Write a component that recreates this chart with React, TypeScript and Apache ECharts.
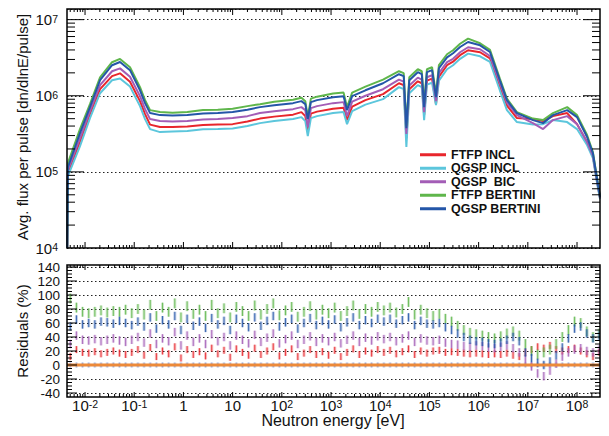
import React, { useEffect, useRef } from "react";
import * as echarts from "echarts";

const FONT = '"Liberation Sans", Arial, Helvetica, sans-serif';

// Neutron energy (eV) of the flux points
const energy = [
  4.35e-3, 4.5e-3, 7.9e-3, 0.0126, 0.0202, 0.0354, 0.0514, 0.082, 0.131, 0.166,
  0.21, 0.334, 0.6, 1.2, 2.5, 5, 10, 20, 36, 70,
  169, 250, 300, 337, 390, 519, 1100, 1800, 2115, 2690,
  5000, 1.14e4, 2.4e4, 3.0e4, 3.4e4, 3.9e4, 5.8e4, 7.0e4, 7.8e4, 8.9e4,
  1.13e5, 1.36e5, 1.56e5, 2.28e5, 3.02e5, 4.2e5, 6.1e5, 1.07e6, 1.7e6, 2.7e6,
  3.76e6, 6.0e6, 1.27e7, 2.04e7, 3.24e7, 6.3e7, 1.0e8, 1.6e8, 2.1e8, 2.57e8,
  2.93e8,
];

// Avg. flux per pulse [dn/dlnE/pulse]
const fluxFtfpIncl = [
  1e4, 9.67e4, 2.47e5, 5.74e5, 1.22e6, 1.81e6, 1.97e6, 1.53e6, 8.5e5, 5.74e5,
  4.18e5, 3.88e5, 3.88e5, 3.94e5, 4.12e5, 4.18e5, 4.24e5, 4.58e5, 5.01e5, 5.32e5,
  5.65e5, 6.1e5, 5.4e5, 3.44e5, 5.83e5, 6.19e5, 6.77e5, 6.98e5, 4.79e5, 7.2e5,
  8.76e5, 1.05e6, 1.46e6, 1.38e6, 2.78e5, 1.22e6, 1.55e6, 1.46e6, 5.57e5, 1.58e6,
  1.68e6, 7.76e5, 1.78e6, 2.52e6, 2.8e6, 3.41e6, 3.96e6, 3.73e6, 3.09e6, 1.34e6,
  7.42e5, 5.09e5, 4.94e5, 4.65e5, 5.4e5, 5.92e5, 4.24e5, 2.47e5, 1.62e5, 7.37e4,
  4.55e4,
];
const fluxQgspIncl = [
  1e4, 8.84e4, 2.18e5, 5.09e5, 1.08e6, 1.6e6, 1.69e6, 1.32e6, 7.31e5, 4.94e5,
  3.65e5, 3.33e5, 3.38e5, 3.44e5, 3.62e5, 3.65e5, 3.71e5, 4.0e5, 4.37e5, 4.65e5,
  4.94e5, 5.24e5, 4.65e5, 2.95e5, 5.09e5, 5.4e5, 5.92e5, 6.1e5, 4.24e5, 6.28e5,
  7.64e5, 9.03e5, 1.3e6, 1.22e6, 2.12e5, 1.08e6, 1.38e6, 1.3e6, 4.79e5, 1.4e6,
  1.48e6, 7.53e5, 1.58e6, 2.23e6, 2.52e6, 3.06e6, 3.58e6, 3.3e6, 2.78e6, 1.18e6,
  6.48e5, 4.51e5, 4.18e5, 4.24e5, 4.79e5, 4.51e5, 3.65e5, 2.25e5, 1.52e5, 6.94e4,
  4.41e4,
];
const fluxQgspBic = [
  1e4, 1.06e5, 2.78e5, 6.28e5, 1.38e6, 2.1e6, 2.29e6, 1.78e6, 9.88e5, 6.67e5,
  4.94e5, 4.65e5, 4.58e5, 4.65e5, 4.89e5, 4.94e5, 5.09e5, 5.4e5, 5.92e5, 6.28e5,
  6.67e5, 7.09e5, 6.48e5, 3.88e5, 6.88e5, 7.31e5, 8.0e5, 8.25e5, 5.4e5, 8.37e5,
  1.0e6, 1.22e6, 1.63e6, 1.53e6, 3.14e5, 1.36e6, 1.73e6, 1.63e6, 6.1e5, 1.75e6,
  1.86e6, 8.5e5, 1.98e6, 2.76e6, 3.06e6, 3.73e6, 4.34e6, 4.08e6, 3.33e6, 1.46e6,
  8.12e5, 5.57e5, 4.37e5, 3.65e5, 4.79e5, 5.4e5, 4.24e5, 2.47e5, 1.62e5, 7.37e4,
  4.55e4,
];
const fluxFtfpBertini = [
  1e4, 1.31e5, 3.65e5, 7.76e5, 1.75e6, 2.76e6, 3.05e6, 2.37e6, 1.3e6, 8.76e5,
  6.48e5, 6.1e5, 6.0e5, 6.1e5, 6.48e5, 6.57e5, 6.77e5, 7.31e5, 7.76e5, 8.37e5,
  8.89e5, 9.44e5, 8.5e5, 5.24e5, 9.16e5, 9.73e5, 1.07e6, 1.1e6, 7.09e5, 1.1e6,
  1.32e6, 1.63e6, 2.1e6, 1.98e6, 4.0e5, 1.75e6, 2.23e6, 2.1e6, 7.76e5, 2.23e6,
  2.37e6, 1.05e6, 2.52e6, 3.51e6, 3.96e6, 4.82e6, 5.64e6, 4.89e6, 4.0e6, 1.68e6,
  9.16e5, 6.1e5, 5.01e5, 4.79e5, 5.92e5, 7.09e5, 5.57e5, 3.05e5, 1.82e5, 8.07e4,
  4.69e4,
];
const fluxQgspBertini = [
  1e4, 1.16e5, 3.23e5, 7.09e5, 1.6e6, 2.52e6, 2.78e6, 2.17e6, 1.18e6, 8.0e5,
  5.92e5, 5.57e5, 5.49e5, 5.57e5, 5.86e5, 5.92e5, 6.1e5, 6.57e5, 7.09e5, 7.53e5,
  8.0e5, 8.5e5, 7.76e5, 4.94e5, 8.25e5, 8.76e5, 9.59e5, 9.88e5, 6.48e5, 9.88e5,
  1.18e6, 1.46e6, 1.92e6, 1.81e6, 3.76e5, 1.6e6, 2.04e6, 1.92e6, 7.09e5, 2.04e6,
  2.17e6, 9.59e5, 2.3e6, 3.2e6, 3.62e6, 4.37e6, 5.09e6, 4.6e6, 3.76e6, 1.6e6,
  8.76e5, 5.92e5, 4.79e5, 4.37e5, 5.57e5, 6.48e5, 5.24e5, 2.87e5, 1.77e5, 7.83e4,
  4.69e4,
];

const seriesNames = ["FTFP INCL", "QGSP INCL", "QGSP  BIC", "FTFP BERTINI", "QGSP BERTINI"];
const seriesColors = ["#e8262c", "#5cc6dc", "#a35db6", "#5fb64b", "#2456a8"];
const fluxSeries = [fluxFtfpIncl, fluxQgspIncl, fluxQgspBic, fluxFtfpBertini, fluxQgspBertini];

// Residuals (%) relative to QGSP INCL, histogram bins of 1/8 decade from 10^-2.3 eV
const resLogStart = -2.3;
const resLogStep = 0.125;
const resFtfpIncl = [
  12, 22, 18,
  17, 19, 16, 18, 20, 17, 15, 18,
  22, 14, 25, 12, 20, 16, 26, 10, 22, 15,
  19, 13, 24, 16, 21, 11, 23, 18, 14, 24,
  15, 20, 26, 13, 18, 23, 12, 17, 22, 15,
  19, 14, 21, 12, 18, 23, 15, 20, 17, 22,
  18, 21, 16, 19, 23, 15, 20, 17,
  20, 21, 18, 19,
  18, 17, 16, 17,
  16, 15, 16, 15,
  17, 14, 12,
  18, 22, 26,
  24, 28, 22,
  20, 22, 24,
  20, 16, 12, 18,
];
const resQgspBic = [
  30, 42, 36,
  35, 37, 34, 36, 38, 35, 33, 36,
  40, 32, 45, 30, 38, 34, 47, 28, 42, 33,
  38, 30, 44, 34, 40, 28, 42, 36, 31, 43,
  33, 39, 45, 31, 37, 42, 30, 36, 41, 33,
  38, 34, 40, 31, 36, 42, 33, 39, 35, 41,
  37, 40, 34, 38, 42, 33, 38, 35,
  34, 36, 32, 30,
  29, 27, 26, 28,
  27, 25, 24, 26,
  28, 24, 18,
  8, -2, -12,
  -16, -8, 2,
  12, 18, 22,
  24, 20, 18, 22,
];
const resFtfpBertini = [
  95, 82, 76,
  74, 76, 78, 75, 77, 76, 79, 74,
  80, 72, 86, 70, 82, 76, 88, 68, 84, 73,
  79, 70, 86, 74, 81, 68, 83, 77, 70, 85,
  72, 80, 88, 71, 78, 83, 69, 76, 84, 72,
  79, 74, 82, 70, 77, 85, 73, 80, 76, 83,
  78, 82, 75, 80, 90, 72, 79, 74,
  70, 73, 66, 62,
  56, 50, 46, 44,
  42, 40, 38, 41,
  45, 48, 42,
  30, 20, 15,
  18, 22, 30,
  40, 50, 62,
  60, 48, 40, 45,
];
const resQgspBertini = [
  55, 65, 58,
  60, 58, 62, 61, 59, 63, 60, 57,
  62, 55, 68, 52, 64, 58, 70, 50, 66, 56,
  62, 53, 67, 58, 63, 50, 66, 60, 54, 68,
  56, 63, 70, 55, 61, 66, 52, 60, 67, 57,
  63, 58, 65, 54, 61, 68, 57, 64, 60, 66,
  62, 66, 59, 64, 68, 57, 63, 59,
  58, 60, 54, 50,
  45, 40, 36, 34,
  33, 31, 30, 32,
  36, 40, 34,
  18, 10, 3,
  0, 5, 14,
  25, 38, 52,
  55, 45, 38, 42,
];
// reference model against itself: zero
const resQgspIncl = resFtfpIncl.map(() => 0);
// statistical error half-widths (%)
const resErrors = { ftfpIncl: 5, qgspIncl: 3.5, qgspBic: 6, ftfpBertini: 7, qgspBertini: 6 };

// Axis ranges
const E_MIN = 4.3e-3;
const E_MAX = 2.93e8;
const FLUX_MIN = 1e4;
const FLUX_MAX = 1.38e7;
const RES_MIN = -40;
const RES_MAX = 140;
const RES_STEP = 20;

const X_MIN = Math.log10(E_MIN);
const X_MAX = Math.log10(E_MAX);
const Y_MIN = Math.log10(FLUX_MIN);
const Y_MAX = Math.log10(FLUX_MAX);

const powLabel = (v: number) => {
  const n = Math.round(v);
  if (Math.abs(v - n) > 1e-6) return "";
  if (n === 0) return "{b|1}";
  if (n === 1) return "{b|10}";
  return `{b|10}{s|${n}}`;
};

const richLabel = (size: number) => ({
  b: { fontSize: size, lineHeight: 13, color: "#111", fontFamily: FONT },
  s: { fontSize: 10.5, lineHeight: 6, verticalAlign: "top", color: "#111", fontFamily: FONT },
});

function logTicks(lo: number, hi: number, majorLen: number, minorLen: number) {
  const out: number[][] = [];
  for (let d = Math.floor(lo) - 1; d <= Math.ceil(hi); d++) {
    for (let k = 1; k <= 9; k++) {
      const p = d + Math.log10(k);
      if (p > lo + 1e-9 && p < hi - 1e-9) out.push([p, k === 1 ? majorLen : minorLen]);
    }
  }
  return out;
}

function tickRenderer(extTop: number, extBottom: number) {
  return (params: any, api: any) => {
    const cs = params.coordSys;
    const top = cs.y - extTop;
    const bottom = cs.y + cs.height + extBottom;
    const left = cs.x;
    const right = cs.x + cs.width;
    const kind = api.value(2);
    const len = api.value(3);
    const pt = api.coord([api.value(0), api.value(1)]);
    const st = { stroke: "#000", lineWidth: 1 };
    if (kind === 0) {
      const px = pt[0];
      return {
        type: "group",
        children: [
          { type: "line", shape: { x1: px, y1: bottom, x2: px, y2: bottom - len }, style: st },
          { type: "line", shape: { x1: px, y1: top, x2: px, y2: top + len }, style: st },
        ],
      };
    }
    const py = pt[1];
    return {
      type: "group",
      children: [
        { type: "line", shape: { x1: left, y1: py, x2: left + len, y2: py }, style: st },
        { type: "line", shape: { x1: right, y1: py, x2: right - len, y2: py }, style: st },
      ],
    };
  };
}

function residualRenderer(fill: string, stroke: string) {
  return (params: any, api: any) => {
    const x = api.value(0);
    const v = api.value(1);
    const e = api.value(2);
    const p1 = api.coord([x, v + e]);
    const p2 = api.coord([x, v - e]);
    return {
      type: "group",
      children: [
        { type: "rect", shape: { x: p1[0] - 1.5, y: p1[1], width: 3, height: p2[1] - p1[1] }, style: { fill } },
        { type: "line", shape: { x1: p1[0], y1: p1[1], x2: p2[0], y2: p2[1] }, style: { stroke, lineWidth: 1 } },
      ],
    };
  };
}

function residualSeries(name: string, values: number[], err: number, fill: string, stroke: string) {
  return {
    name,
    type: "custom",
    xAxisIndex: 1,
    yAxisIndex: 1,
    clip: true,
    silent: true,
    encode: { x: 0, y: 1 },
    data: values.map((v, i) => [resLogStart + i * resLogStep, v, err]),
    renderItem: residualRenderer(fill, stroke),
  };
}

function buildOption() {
  const topTicks = [
    ...logTicks(X_MIN, X_MAX, 6, 3).map(([p, l]) => [p, Y_MIN, 0, l]),
    ...logTicks(Y_MIN, Y_MAX, 17, 8).map(([p, l]) => [X_MIN, p, 1, l]),
  ];
  const bottomTicks: number[][] = logTicks(X_MIN, X_MAX, 5, 3).map(([p, l]) => [p, RES_MIN, 0, l]);
  for (let v = RES_MIN; v <= RES_MAX; v += 5) {
    bottomTicks.push([X_MIN, v, 1, v % RES_STEP === 0 ? 10 : 5]);
  }

  const fluxLines = fluxSeries.map((flux, s) => ({
    name: seriesNames[s],
    type: "line",
    xAxisIndex: 0,
    yAxisIndex: 0,
    showSymbol: false,
    symbol: "none",
    clip: true,
    z: 2 + s,
    itemStyle: { color: seriesColors[s] },
    lineStyle: { color: seriesColors[s], width: 2 },
    data: energy.map((e, i) => [Math.log10(e), Math.log10(flux[i])]),
  }));

  return {
    animation: false,
    backgroundColor: "#fff",
    textStyle: { fontFamily: FONT },
    grid: [
      { left: 67, top: 9, width: 533, height: 239, show: false, outerBoundsMode: "none" },
      { left: 67, top: 267, width: 533, height: 126, show: false, outerBoundsMode: "none" },
    ],
    legend: {
      data: seriesNames.map((n) => ({ name: n, icon: "rect" })),
      orient: "vertical",
      left: 420,
      top: 148,
      itemWidth: 26,
      itemHeight: 3,
      itemGap: 0,
      padding: 0,
      selectedMode: false,
      textStyle: { fontFamily: FONT, fontSize: 12.5, fontWeight: "bold", color: "#111", lineHeight: 13.5 },
    },
    xAxis: [
      {
        gridIndex: 0,
        type: "value",
        min: X_MIN,
        max: X_MAX,
        splitNumber: 11,
        axisLine: { show: false },
        axisTick: { show: false },
        axisLabel: { show: false },
        splitLine: { show: false },
      },
      {
        gridIndex: 1,
        type: "value",
        min: X_MIN,
        max: X_MAX,
        splitNumber: 11,
        offset: 4,
        axisLine: { show: false },
        axisTick: { show: false },
        axisLabel: { show: true, margin: 1.5, formatter: powLabel, rich: richLabel(15) },
        splitLine: { show: false },
      },
    ],
    yAxis: [
      {
        gridIndex: 0,
        type: "value",
        min: Y_MIN,
        max: Y_MAX,
        splitNumber: 3,
        axisLine: { show: false },
        axisTick: { show: false },
        axisLabel: { show: true, margin: 9, formatter: powLabel, rich: richLabel(15) },
        splitLine: { show: true, lineStyle: { color: "#222", type: [1.5, 2.5], width: 1 } },
      },
      {
        gridIndex: 1,
        type: "value",
        min: RES_MIN,
        max: RES_MAX,
        interval: RES_STEP,
        axisLine: { show: false },
        axisTick: { show: false },
        axisLabel: {
          show: true,
          margin: 7,
          fontSize: 13.5,
          lineHeight: 11,
          color: "#111",
          fontFamily: FONT,
        },
        splitLine: { show: true, lineStyle: { color: "#222", type: [1.5, 2.5], width: 1 } },
      },
    ],
    series: [
      ...fluxLines,
      {
        name: "ticks-top",
        type: "custom",
        xAxisIndex: 0,
        yAxisIndex: 0,
        silent: true,
        clip: false,
        z: 20,
        encode: { x: 0, y: 1 },
        data: topTicks,
        renderItem: tickRenderer(0, 0),
      },
      residualSeries("res QGSP INCL", resQgspIncl, resErrors.qgspIncl, "rgba(110,140,215,0.35)", "rgba(90,120,205,0.55)"),
      residualSeries("res FTFP INCL", resFtfpIncl, resErrors.ftfpIncl, "rgba(232,38,44,0.3)", "rgba(232,38,44,0.85)"),
      residualSeries("res QGSP BIC", resQgspBic, resErrors.qgspBic, "rgba(163,93,182,0.3)", "rgba(163,93,182,0.85)"),
      residualSeries("res FTFP BERTINI", resFtfpBertini, resErrors.ftfpBertini, "rgba(95,182,75,0.3)", "rgba(95,182,75,0.85)"),
      residualSeries("res QGSP BERTINI", resQgspBertini, resErrors.qgspBertini, "rgba(36,86,168,0.3)", "rgba(36,86,168,0.85)"),
      {
        name: "zero",
        type: "line",
        xAxisIndex: 1,
        yAxisIndex: 1,
        showSymbol: false,
        symbol: "none",
        z: 10,
        lineStyle: { color: "#ec8a3a", width: 3 },
        data: [
          [X_MIN, 0],
          [X_MAX, 0],
        ],
      },
      {
        name: "ticks-bottom",
        type: "custom",
        xAxisIndex: 1,
        yAxisIndex: 1,
        silent: true,
        clip: false,
        z: 20,
        encode: { x: 0, y: 1 },
        data: bottomTicks,
        renderItem: tickRenderer(2, 4),
      },
    ],
    graphic: [
      {
        type: "rect",
        z: 100,
        silent: true,
        shape: { x: 67, y: 9, width: 533, height: 239 },
        style: { fill: "none", stroke: "#000", lineWidth: 1.5 },
      },
      {
        type: "rect",
        z: 100,
        silent: true,
        shape: { x: 67, y: 265, width: 533, height: 132 },
        style: { fill: "none", stroke: "#000", lineWidth: 1.5 },
      },
      {
        type: "text",
        x: 22.5,
        y: 127,
        rotation: Math.PI / 2,
        style: {
          text: "Avg. flux per pulse [dn/dlnE/pulse]",
          fontSize: 15,
          fontFamily: FONT,
          fill: "#111",
          align: "center",
          verticalAlign: "middle",
        },
      },
      {
        type: "text",
        x: 22.5,
        y: 331,
        rotation: Math.PI / 2,
        style: {
          text: "Residuals (%)",
          fontSize: 15,
          fontFamily: FONT,
          fill: "#111",
          align: "center",
          verticalAlign: "middle",
        },
      },
      {
        type: "text",
        x: 333,
        y: 420.5,
        style: {
          text: "Neutron energy [eV]",
          fontSize: 16,
          fontFamily: FONT,
          fill: "#111",
          align: "center",
          verticalAlign: "middle",
        },
      },
    ],
  };
}

export default function App() {
  const ref = useRef<HTMLDivElement>(null);
  useEffect(() => {
    if (!ref.current) return;
    const chart = echarts.init(ref.current, null, { renderer: "svg" });
    chart.setOption(buildOption() as any);
    return () => chart.dispose();
  }, []);
  return (
    <div
      ref={ref}
      style={{ position: "fixed", left: 0, top: 0, width: 609, height: 436, background: "#fff" }}
    />
  );
}
